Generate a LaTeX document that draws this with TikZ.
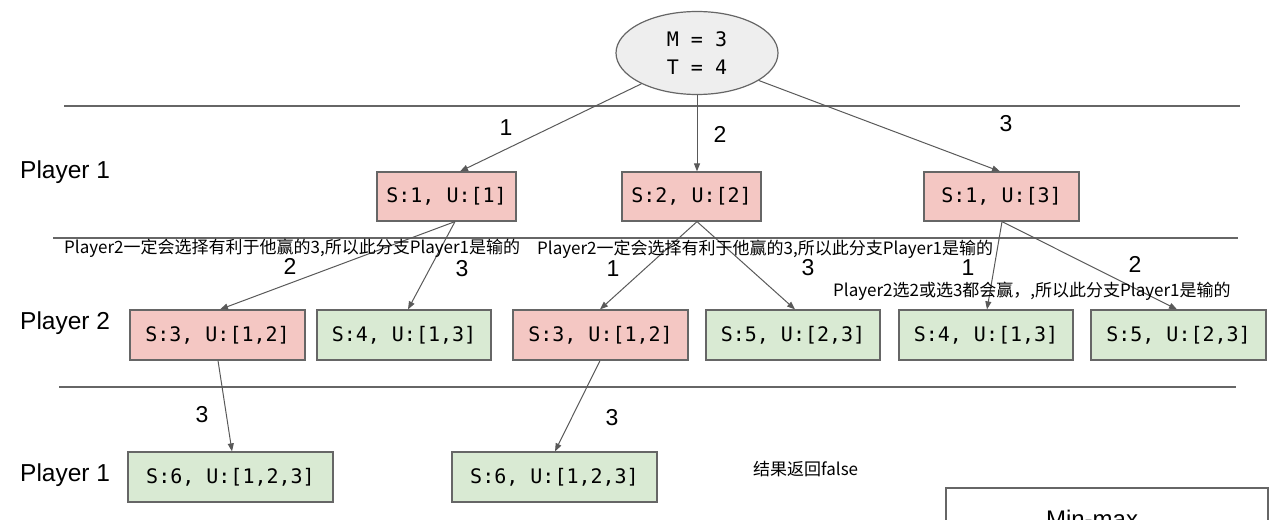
\documentclass[tikz,border=0pt]{standalone}
\usepackage{fontspec}
\setmainfont{Liberation Sans}
\newfontfamily\monofnt{DejaVu Sans Mono}
\newfontfamily\cjk{Noto Sans CJK SC}
\usetikzlibrary{arrows.meta,calc,shapes.geometric}
\definecolor{linegray}{HTML}{666666}
\definecolor{arrowgray}{HTML}{595959}
\definecolor{boxborder}{HTML}{666666}
\definecolor{pinkfill}{HTML}{F4C7C3}
\definecolor{greenfill}{HTML}{D9EAD3}
\definecolor{ellfill}{HTML}{EEEEEE}
\begin{document}
\begin{tikzpicture}[x=1pt,y=-1pt,
 hline/.style={draw=linegray, line width=1.2pt},
 conn/.style={draw=arrowgray, line width=1pt, -{Triangle[length=8pt,width=6pt]}},
 statebox/.style={draw=boxborder, line width=1.2pt, minimum height=49pt, inner sep=0pt, font=\monofnt\fontsize{20}{24}\selectfont},
 lose/.style={statebox, fill=pinkfill},
 win/.style={statebox, fill=greenfill},
 lvl/.style={anchor=west, inner sep=0pt, font=\fontsize{24.5}{28}\selectfont},
 num/.style={inner sep=0pt, font=\fontsize{23}{26}\selectfont},
 note/.style={anchor=west, inner sep=0pt, font=\cjk\fontsize{17}{19}\selectfont}]
\useasboundingbox (0,0) rectangle (1273,519);
\clip (0,0) rectangle (1273,519);

% separator lines
\coordinate (l1a) at (64,106);  \coordinate (l1b) at (1240,106);
\coordinate (l2a) at (53,238);  \coordinate (l2b) at (1238,238);
\coordinate (l3a) at (59,387);  \coordinate (l3b) at (1236,387);
\draw[hline] (l1a) -- (l1b);
\draw[hline] (l2a) -- (l2b);
\draw[hline] (l3a) -- (l3b);

% root
\node[ellipse, draw=boxborder, line width=1.2pt, fill=ellfill, minimum width=162pt, minimum height=83pt, inner sep=0pt,
      align=center, font=\monofnt\fontsize{20}{28}\selectfont] (root) at (697,53) {M = 3\\T = 4};

% level labels
\node[lvl] (p1a) at (20,172) {Player 1};
\node[lvl] (p2) at (20,323) {Player 2};
\node[lvl] (p1b) at (20,475) {Player 1};

% level 1
\node[lose, minimum width=139pt] (b1) at (446.5,196.5) {S:1, U:[1]};
\node[lose, minimum width=139pt] (b2) at (691.5,196.5) {S:2, U:[2]};
\node[lose, minimum width=155pt] (b3) at (1001.5,196.5) {S:1, U:[3]};

% level 2
\node[lose, minimum width=175pt, minimum height=50pt] (c1) at (217.5,335) {S:3, U:[1,2]};
\node[win,  minimum width=174pt, minimum height=50pt] (c2) at (404,335) {S:4, U:[1,3]};
\node[lose, minimum width=175pt, minimum height=50pt] (c3) at (600.5,335) {S:3, U:[1,2]};
\node[win,  minimum width=174pt, minimum height=50pt] (c4) at (793,335) {S:5, U:[2,3]};
\node[win,  minimum width=174pt, minimum height=50pt] (c5) at (986,335) {S:4, U:[1,3]};
\node[win,  minimum width=175pt, minimum height=50pt] (c6) at (1178.5,335) {S:5, U:[2,3]};

% level 3
\node[win, minimum width=205pt, minimum height=50pt] (d1) at (230.5,477) {S:6, U:[1,2,3]};
\node[win, minimum width=205pt, minimum height=50pt] (d2) at (554.5,477) {S:6, U:[1,2,3]};

% connectors
\draw[conn] (root.209) -- ([xshift=13.5pt]b1.north);
\draw[conn] (root.south) -- ([xshift=5.5pt]b2.north);
\draw[conn] (root.336) -- ([xshift=-1.5pt]b3.north);

\draw[conn] ([xshift=8.5pt]b1.south) -- ([xshift=2.5pt]c1.north);
\draw[conn] ([xshift=8.5pt]b1.south) -- ([xshift=4pt]c2.north);
\draw[conn] ([xshift=5.5pt]b2.south) -- ([xshift=-0.5pt]c3.north);
\draw[conn] ([xshift=5.5pt]b2.south) -- ([xshift=2pt]c4.north);
\draw[conn] ([xshift=0.5pt]b3.south) -- ([xshift=1pt]c5.north);
\draw[conn] ([xshift=0.5pt]b3.south) -- ([xshift=-1.5pt]c6.north);

\draw[conn] ([xshift=0.5pt]c1.south) -- ([xshift=1.5pt]d1.north);
\draw[conn] ([xshift=-0.5pt]c3.south) -- ([xshift=0.5pt]d2.north);

% edge labels
\node[num] (n1) at (506,128) {1};
\node[num] (n2) at (720,134) {2};
\node[num] (n3) at (1006,124) {3};
\node[num] (n4) at (290,266) {2};
\node[num] (n5) at (462,269) {3};
\node[num] (n6) at (613,269) {1};
\node[num] (n7) at (808,268) {3};
\node[num] (n8) at (968,268) {1};
\node[num] (n9) at (1135,264) {2};
\node[num] (n10) at (202,415) {3};
\node[num] (n11) at (612,418) {3};

% notes
\node[note] (t1) at (64,248) {Player2一定会选择有利于他赢的3,所以此分支Player1是输的};
\node[note] (t2) at (537,249) {Player2一定会选择有利于他赢的3,所以此分支Player1是输的};
\node[note] (t3) at (833,291) {Player2选2或选3都会赢，,所以此分支Player1是输的};
\node[note] (t4) at (753,469) {结果返回false};

% min-max box (cut by the page edge, as in the reference)
\draw[draw=boxborder, line width=1.2pt] (946,488) rectangle (1268,560);
\node[inner sep=0pt, font=\fontsize{24}{28}\selectfont] (mm) at (1092,519) {Min-max};
\end{tikzpicture}
\end{document}
